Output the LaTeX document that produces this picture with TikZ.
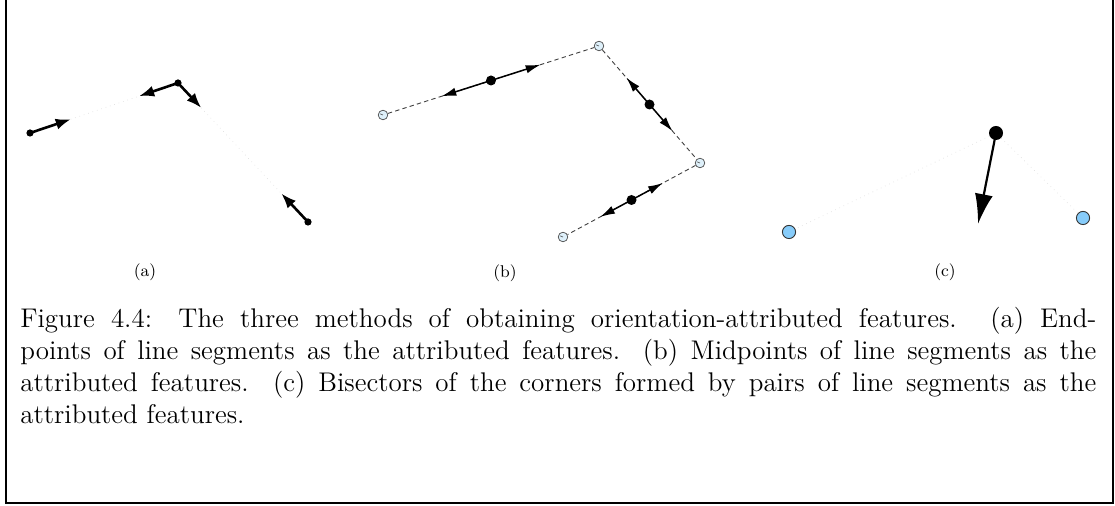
\documentclass[tikz,border=0pt]{standalone}
\usetikzlibrary{arrows.meta,calc}
\definecolor{openblue}{RGB}{222,240,250}
\definecolor{skyblue}{RGB}{135,204,250}
\begin{document}
\begin{tikzpicture}[x=0.5pt,y=-0.5pt,
  enddot/.style={circle,fill=black,inner sep=0pt,minimum size=3.6pt},
  middot/.style={circle,fill=black,inner sep=0pt,minimum size=5pt},
  opendot/.style={circle,draw=black!70,fill=openblue,line width=0.35pt,inner sep=0pt,minimum size=4.8pt,
    path picture={\draw[black!70,line width=0.3pt] (path picture bounding box.center) -- ++(-1.5pt,0.6pt);}},
  bluedot/.style={circle,draw=black!80,fill=skyblue,line width=0.45pt,inner sep=0pt,minimum size=6.6pt},
  cornerdot/.style={circle,fill=black,inner sep=0pt,minimum size=7pt},
  endarrow/.style={line width=1.3pt,-{Latex[length=7.5pt,width=5.6pt]}},
  midarrow/.style={line width=0.75pt,-{Latex[length=7.5pt,width=4.2pt]}},
  bigarrow/.style={line width=1.1pt,-{Latex[length=15pt,width=9pt]}},
  faint/.style={gray!30,line width=0.3pt,dotted},
  chain/.style={black!75,line width=0.45pt,dash pattern=on 2.2pt off 1.6pt},
  sublabel/.style={font=\fontsize{8.5}{10}\selectfont},
  caption/.style={text width=538pt,align=justify,inner sep=0pt,font=\fontsize{13.5}{16}\selectfont}]
  \useasboundingbox (0,0) rectangle (1115,506);

  % Frame (open at the top)
  \draw[line width=1.1pt] (6,0) -- (6,503) -- (1113,503) -- (1113,0);

  % (a) Endpoints
  \node[enddot] (a1) at (30,133) {};
  \node[enddot] (a2) at (178,83) {};
  \node[enddot] (a3) at (308,222) {};
  \coordinate (a12) at ($(a1)!21.5pt!(a2)$);
  \coordinate (a21) at ($(a2)!20.5pt!(a1)$);
  \coordinate (a23) at ($(a2)!17pt!(a3)$);
  \coordinate (a32) at ($(a3)!19.5pt!(a2)$);
  \draw[faint] (a12) -- (a21);
  \draw[faint] (a23) -- (a32);
  \draw[endarrow] (a1.center) -- (a12);
  \draw[endarrow] (a2.center) -- (a21);
  \draw[endarrow] (a2.center) -- (a23);
  \draw[endarrow] (a3.center) -- (a32);
  \node[sublabel] (la) at (145,272) {(a)};

  % (b) Midpoints
  \node[opendot] (b1) at (383,115) {};
  \node[opendot] (b2) at (599,46) {};
  \node[opendot] (b3) at (700,163) {};
  \node[opendot] (b4) at (563,237) {};
  \draw[chain] (b1) -- (b2);
  \draw[chain] (b2) -- (b3);
  \draw[chain] (b3) -- (b4);
  \foreach \s/\t [count=\i] in {b1/b2,b2/b3,b3/b4} {
    \node[middot] (m\i) at ($(\s)!0.5!(\t)$) {};
    \coordinate (m\i s) at ($(\s)!0.27!(\t)$);
    \coordinate (m\i t) at ($(\s)!0.73!(\t)$);
    \draw[midarrow] (m\i.center) -- (m\i s);
    \draw[midarrow] (m\i.center) -- (m\i t);
  }
  \node[sublabel] (lb) at (505,273) {(b)};

  % (c) Corner bisector
  \node[bluedot] (c1) at (789,232) {};
  \node[cornerdot] (c2) at (996,133) {};
  \node[bluedot] (c3) at (1083,218) {};
  \coordinate (cb) at (978,224);
  \draw[faint] (c2) -- (c1);
  \draw[faint] (c2) -- (c3);
  \draw[bigarrow] (c2.center) -- (cb);
  \node[sublabel] (lc) at (945,272) {(c)};

  % Caption
  \node[caption,anchor=base west] (cap) at (20,328) {Figure 4.4: The three methods of obtaining orientation-attributed features. (a)~End-\linebreak points of line segments as the attributed features. (b)~Midpoints of line segments as the\linebreak attributed features. (c)~Bisectors of the corners formed by pairs of line segments as the\linebreak attributed features.};
\end{tikzpicture}
\end{document}
